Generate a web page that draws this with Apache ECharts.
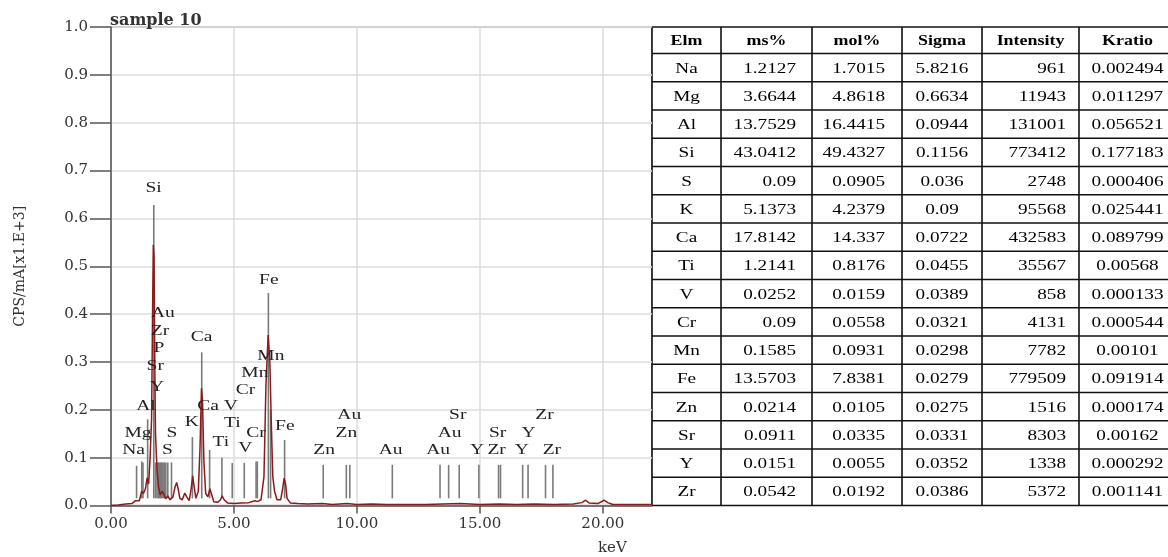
<!DOCTYPE html>
<html>
<head>
<meta charset="utf-8">
<script src="https://cdn.jsdelivr.net/npm/echarts@6/dist/echarts.min.js"></script>
<style>
  html, body { margin: 0; padding: 0; background: #fff; }
  #chart { width: 1168px; height: 557px; }
</style>
</head>
<body>
<div id="chart"></div>
<script>
// spectrum trace: energy (keV) and CPS/mA [x1.E+3]
const specKeV = [0.00, 0.30, 0.60, 0.85, 1.00, 1.08, 1.15, 1.25, 1.32, 1.40, 1.47, 1.53, 1.59, 1.65, 1.69, 1.72, 1.75, 1.78, 1.81, 1.84,
  1.88, 1.93, 2.00, 2.08, 2.14, 2.22, 2.31, 2.40, 2.52, 2.60, 2.67, 2.73, 2.80, 2.90, 3.00, 3.08, 3.18, 3.26, 3.32, 3.38,
  3.45, 3.55, 3.62, 3.68, 3.72, 3.78, 3.85, 3.94, 4.02, 4.08, 4.18, 4.35, 4.45, 4.52, 4.60, 4.75, 5.00, 5.30, 5.60, 5.85,
  5.95, 6.10, 6.22, 6.30, 6.39, 6.46, 6.52, 6.58, 6.65, 6.75, 6.90, 6.98, 7.04, 7.10, 7.16, 7.30, 7.60, 8.00, 8.60, 9.00,
  9.60, 10.00, 10.60, 11.20, 12.00, 12.80, 13.50, 14.20, 15.00, 15.80, 16.50, 17.20, 18.00, 18.80, 19.15, 19.30, 19.45, 19.80, 20.05, 20.20,
  20.40, 21.00, 21.60, 22.00];
const specCps = [0.000, 0.001, 0.003, 0.004, 0.010, 0.012, 0.010, 0.030, 0.025, 0.035, 0.058, 0.045, 0.100, 0.180, 0.400, 0.545, 0.520, 0.300, 0.150, 0.110,
  0.070, 0.040, 0.022, 0.030, 0.025, 0.014, 0.020, 0.012, 0.018, 0.038, 0.048, 0.035, 0.015, 0.012, 0.026, 0.018, 0.010, 0.035, 0.062, 0.040,
  0.015, 0.030, 0.120, 0.245, 0.220, 0.090, 0.025, 0.018, 0.035, 0.025, 0.008, 0.007, 0.012, 0.020, 0.012, 0.005, 0.004, 0.005, 0.006, 0.010,
  0.008, 0.012, 0.060, 0.250, 0.356, 0.300, 0.170, 0.060, 0.030, 0.012, 0.012, 0.035, 0.057, 0.045, 0.015, 0.005, 0.004, 0.003, 0.004, 0.002,
  0.004, 0.002, 0.003, 0.002, 0.002, 0.002, 0.003, 0.004, 0.002, 0.003, 0.002, 0.003, 0.002, 0.003, 0.006, 0.011, 0.005, 0.004, 0.011, 0.006,
  0.002, 0.002, 0.002, 0.002];

// element marker lines (energy, top of line)
const markerKeV = [1.04, 1.25, 1.30, 1.49, 1.74, 1.81, 1.87, 1.92, 1.96, 2.01, 2.04, 2.08, 2.12, 2.17, 2.23, 2.31, 2.46,
  3.31, 3.69, 4.01, 4.51, 4.93, 5.42, 5.90, 5.95, 6.40, 6.49, 7.06,
  8.63, 9.57, 9.71, 11.44, 13.38, 13.73, 14.16, 14.96, 15.76, 15.84, 16.74, 16.96, 17.67, 17.97];
const markerTop = [0.083, 0.092, 0.090, 0.180, 0.628, 0.090, 0.090, 0.090, 0.090, 0.090, 0.090, 0.090, 0.090, 0.090, 0.090, 0.090, 0.090,
  0.143, 0.320, 0.116, 0.100, 0.089, 0.089, 0.092, 0.092, 0.444, 0.200, 0.137,
  0.085, 0.085, 0.085, 0.085, 0.085, 0.085, 0.085, 0.085, 0.085, 0.085, 0.085, 0.085, 0.085, 0.085];
const markerBase = 0.015;

// element labels
const labelText = ['Si', 'Au', 'Zr', 'P', 'Sr', 'Y', 'Al', 'Mg', 'S', 'Na', 'S', 'K', 'Ca', 'Ca', 'V', 'Ti', 'Ti', 'V', 'Cr', 'Cr',
  'Mn', 'Mn', 'Fe', 'Fe', 'Zn', 'Zn', 'Au', 'Au', 'Au', 'Au', 'Sr', 'Y', 'Zr', 'Sr', 'Y', 'Y', 'Zr', 'Zr'];
const labelKeV = [1.73, 2.11, 1.99, 1.95, 1.80, 1.87, 1.42, 1.10, 2.48, 0.92, 2.29, 3.29, 3.68, 3.95, 4.87, 4.93, 4.47, 5.46, 5.90, 5.47,
  5.85, 6.50, 6.42, 7.07, 8.67, 9.57, 9.69, 11.37, 13.30, 13.77, 14.10, 14.89, 15.68, 15.72, 16.71, 16.98, 17.93, 17.63];
const labelY = [0.664, 0.402, 0.365, 0.329, 0.292, 0.248, 0.208, 0.152, 0.152, 0.116, 0.116, 0.175, 0.352, 0.208, 0.208, 0.172, 0.133, 0.120, 0.152, 0.241,
  0.277, 0.312, 0.471, 0.167, 0.116, 0.152, 0.189, 0.116, 0.116, 0.152, 0.189, 0.116, 0.116, 0.152, 0.116, 0.152, 0.116, 0.189];

const xTickVals = [0, 5, 10, 15, 20];

// quantification table
const tableHead = ['Elm', 'ms%', 'mol%', 'Sigma', 'Intensity', 'Kratio'];
const elements = ['Na', 'Mg', 'Al', 'Si', 'S', 'K', 'Ca', 'Ti', 'V', 'Cr', 'Mn', 'Fe', 'Zn', 'Sr', 'Y', 'Zr'];
const msPct = ['1.2127', '3.6644', '13.7529', '43.0412', '0.09', '5.1373', '17.8142', '1.2141', '0.0252', '0.09', '0.1585', '13.5703', '0.0214', '0.0911', '0.0151', '0.0542'];
const molPct = ['1.7015', '4.8618', '16.4415', '49.4327', '0.0905', '4.2379', '14.337', '0.8176', '0.0159', '0.0558', '0.0931', '7.8381', '0.0105', '0.0335', '0.0055', '0.0192'];
const sigma = ['5.8216', '0.6634', '0.0944', '0.1156', '0.036', '0.09', '0.0722', '0.0455', '0.0389', '0.0321', '0.0298', '0.0279', '0.0275', '0.0331', '0.0352', '0.0386'];
const intensity = ['961', '11943', '131001', '773412', '2748', '95568', '432583', '35567', '858', '4131', '7782', '779509', '1516', '8303', '1338', '5372'];
const kratio = ['0.002494', '0.011297', '0.056521', '0.177183', '0.000406', '0.025441', '0.089799', '0.00568', '0.000133', '0.000544', '0.00101', '0.091914', '0.000174', '0.00162', '0.000292', '0.001141'];

const SERIF = '"Liberation Serif", "Times New Roman", serif';
const WIDE = '"DejaVu Serif", serif';

// table layout
const colEdges = [652, 721, 812, 902, 982, 1079, 1176];
const colAlign = ['center', 'right', 'right', 'center', 'right', 'center'];
const colPad = [0, 16, 17, 0, 13, 0];
const tTop = 27, headH = 26.5, rowH = 28.25;
const columns = [elements, msPct, molPct, sigma, intensity, kratio];

function cellText(txt, c, cy, bold) {
  const align = bold ? 'center' : colAlign[c];
  const x = align === 'center' ? (colEdges[c] + colEdges[c + 1]) / 2 : colEdges[c + 1] - colPad[c];
  return {
    type: 'text', x: x, y: cy, scaleX: 1.28,
    style: {
      text: txt, x: 0, y: 0,
      font: (bold ? 'bold 14px ' : '15px ') + SERIF,
      fill: '#000',
      textAlign: align, align: align,
      textVerticalAlign: 'middle', verticalAlign: 'middle'
    }
  };
}

const tableEls = [];
const tBottom = tTop + headH + rowH * elements.length;
tableEls.push({ type: 'rect', shape: { x: colEdges[0], y: tTop - 1, width: 1168 - colEdges[0] + 10, height: tBottom - tTop + 2 }, style: { fill: '#fff' } });
// horizontal rules
for (let r = 0; r <= elements.length + 1; r++) {
  const y = r === 0 ? tTop : tTop + headH + rowH * (r - 1);
  tableEls.push({ type: 'line', shape: { x1: colEdges[0], y1: y, x2: colEdges[colEdges.length - 1], y2: y }, style: { stroke: '#111', lineWidth: 1.6 } });
}
// vertical rules
colEdges.forEach(function (x) {
  tableEls.push({ type: 'line', shape: { x1: x, y1: tTop, x2: x, y2: tBottom }, style: { stroke: '#111', lineWidth: 1.6 } });
});
tableHead.forEach(function (h, c) {
  tableEls.push(cellText(h, c, tTop + headH / 2 + 1, true));
});
columns.forEach(function (col, c) {
  col.forEach(function (v, r) {
    tableEls.push(cellText(v, c, tTop + headH + rowH * (r + 0.5) + 1, false));
  });
});

const chart = echarts.init(document.getElementById('chart'));
chart.setOption({
  animation: false,
  backgroundColor: '#fff',
  title: {
    text: 'sample 10',
    left: 105,
    top: 8,
    textStyle: { fontFamily: WIDE, fontSize: 16, fontWeight: 'bold', color: '#333' }
  },
  grid: {
    left: 111, top: 27, right: 516, bottom: 51.5,
    show: true, borderColor: '#999', borderWidth: 1.5
  },
  xAxis: {
    type: 'value',
    min: 0,
    max: 22,
    interval: 5,
    axisLine: { show: true, lineStyle: { color: '#555', width: 1.5 } },
    axisTick: { show: true, length: 8, customValues: xTickVals, lineStyle: { color: '#555', width: 1.5 } },
    axisLabel: {
      customValues: xTickVals,
      formatter: function (v) { return v.toFixed(2); },
      margin: 11,
      fontFamily: WIDE, fontSize: 15, color: '#333'
    },
    splitLine: { show: true, lineStyle: { color: '#dcdcdc', width: 1.5 } }
  },
  yAxis: {
    type: 'value',
    min: 0,
    max: 1,
    interval: 0.1,
    name: 'CPS/mA[x1.E+3]',
    nameLocation: 'middle',
    nameGap: 84,
    nameTextStyle: { fontFamily: WIDE, fontSize: 14, color: '#333' },
    axisLine: { show: true, lineStyle: { color: '#555', width: 1.5 } },
    axisTick: { show: true, length: 21, lineStyle: { color: '#555', width: 1.5 } },
    axisLabel: {
      formatter: function (v) { return v.toFixed(1); },
      margin: 23,
      fontFamily: WIDE, fontSize: 15, color: '#333'
    },
    splitLine: { show: true, lineStyle: { color: '#dcdcdc', width: 1.5 } }
  },
  series: [
    {
      name: 'markers',
      type: 'custom',
      clip: false,
      data: markerKeV.map(function (k, i) { return [k, markerTop[i]]; }),
      renderItem: function (params, api) {
        const p1 = api.coord([api.value(0), markerBase]);
        const p2 = api.coord([api.value(0), api.value(1)]);
        return {
          type: 'line',
          shape: { x1: p1[0], y1: p1[1], x2: p2[0], y2: p2[1] },
          style: { stroke: '#7a7a7a', lineWidth: 1.6 }
        };
      },
      z: 2
    },
    {
      name: 'spectrum',
      type: 'line',
      data: specKeV.map(function (k, i) { return [k, specCps[i]]; }),
      showSymbol: false,
      symbol: 'none',
      lineStyle: { color: '#8b1a1a', width: 1.5 },
      z: 3
    },
    {
      name: 'labels',
      type: 'custom',
      clip: false,
      data: labelKeV.map(function (k, i) { return [k, labelY[i]]; }),
      renderItem: function (params, api) {
        const p = api.coord([api.value(0), api.value(1)]);
        return {
          type: 'text',
          x: p[0], y: p[1], scaleX: 1.3,
          style: {
            text: labelText[params.dataIndex], x: 0, y: 0,
            font: '15px ' + SERIF,
            fill: '#222',
            textAlign: 'center', align: 'center',
            textVerticalAlign: 'middle', verticalAlign: 'middle'
          }
        };
      },
      z: 4
    }
  ],
  graphic: [
    {
      type: 'text', left: 598, top: 541,
      style: { text: 'keV', font: '15px ' + WIDE, fill: '#333' }
    },
    { type: 'group', z: 100, children: tableEls }
  ]
});
</script>
</body>
</html>
